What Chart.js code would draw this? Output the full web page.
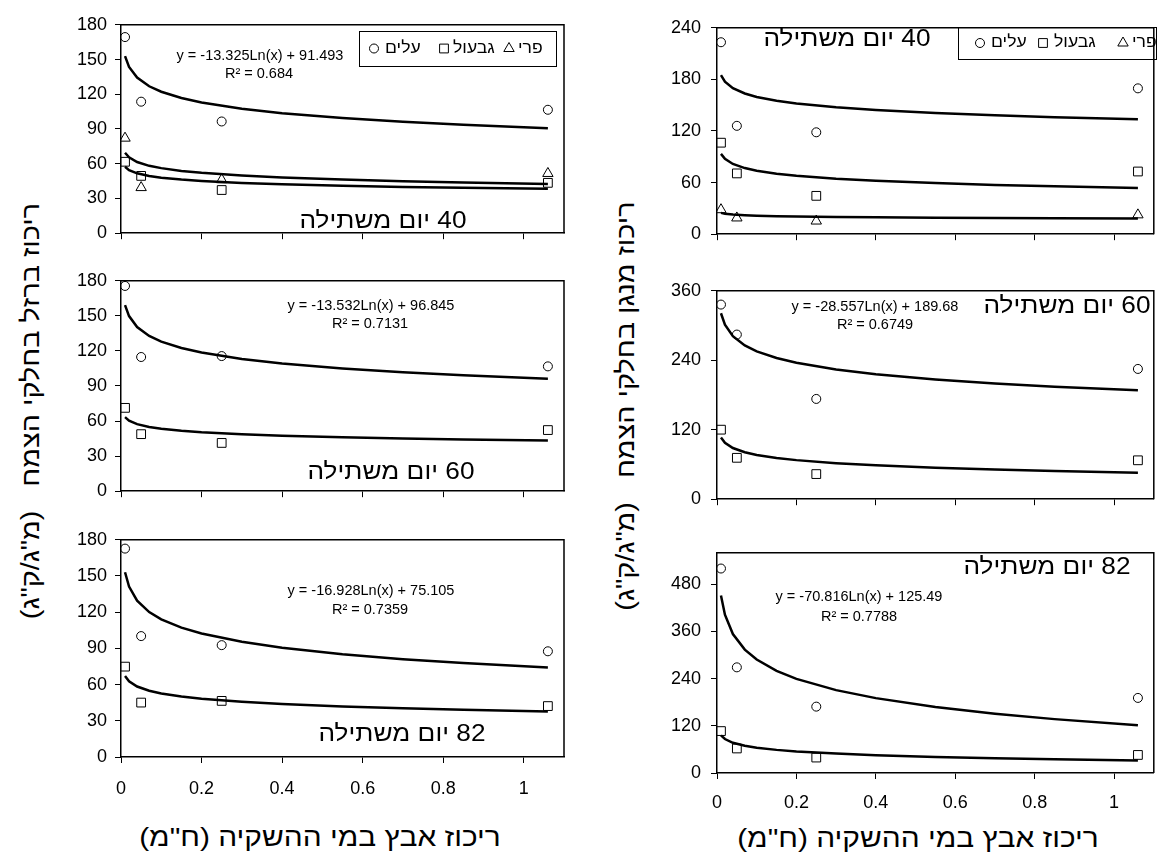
<!DOCTYPE html>
<html lang="he">
<head>
<meta charset="UTF-8">
<title>ריכוז ברזל ומנגן בחלקי הצמח</title>
<script src="https://cdn.jsdelivr.net/npm/chart.js"></script>
<style>
  body { margin: 0; background: #fff; width: 1161px; height: 852px; position: relative; overflow: hidden;
         font-family: "Liberation Sans", Arial, sans-serif; color: #000; }
  canvas { position: absolute; }
  .title { position: absolute; white-space: nowrap; text-align: center; font-size: 26px; height: 30px; line-height: 30px; }
  .xtitle { transform: scaleX(1.15); }
  .ytitle { font-size: 25px; transform: rotate(-90deg) scaleX(1.15); }
</style>
</head>
<body>
<div class="title ytitle" dir="rtl" style="left:-205px; top:396px; width:470px;">ריכוז ברזל בחלקי הצמח&nbsp;&nbsp; (מ"ג/ק"ג)</div>
<div class="title ytitle" dir="rtl" style="left:390px; top:391px; width:470px;">ריכוז מנגן בחלקי הצמח&nbsp;&nbsp; (מ"ג/ק"ג)</div>
<div class="title xtitle" dir="rtl" style="left:110px; top:822px; width:420px;">ריכוז אבץ במי ההשקיה (ח"מ)</div>
<div class="title xtitle" dir="rtl" style="left:708px; top:823px; width:420px;">ריכוז אבץ במי ההשקיה (ח"מ)</div>

<script>
// zinc concentration in irrigation water (x) for the measured points
const xCats = [0.01, 0.05, 0.25, 1.06];
const trendX = [0.01, 0.02, 0.04, 0.07, 0.1, 0.15, 0.2, 0.3, 0.4, 0.55, 0.7, 0.85, 1.06];
const xTicks = [0, 0.2, 0.4, 0.6, 0.8, 1];

const legendLabels = ['עלים', 'גבעול', 'פרי'];
const dayLabels = ['40 יום משתילה', '60 יום משתילה', '82 יום משתילה'];

// iron, 40 days
const fe40Leaf = [169.4, 113.6, 96.5, 106.6];
const fe40Stem = [61.7, 49.5, 37.3, 43.5];
const fe40Fruit = [82.1, 39.4, 46.2, 51.6];
const fe40LeafTrend = [152.9, 143.6, 134.4, 126.9, 122.2, 116.8, 112.9, 107.5, 103.7, 99.5, 96.3, 93.7, 90.7];
const fe40StemTrend = [57.4, 54.5, 51.7, 49.4, 47.9, 46.3, 45.1, 43.4, 42.3, 41.0, 40.0, 39.2, 38.3];
const fe40FruitTrend = [69.5, 65.5, 61.5, 58.2, 56.2, 53.8, 52.2, 49.8, 48.1, 46.3, 44.9, 43.8, 42.5];
// iron, 60 days
const fe60Leaf = [175.6, 114.8, 115.6, 106.8];
const fe60Stem = [71.3, 48.8, 41.3, 52.3];
const fe60LeafTrend = [159.2, 149.8, 140.4, 132.8, 128.0, 122.5, 118.6, 113.1, 109.2, 104.9, 101.7, 99.1, 96.1];
const fe60StemTrend = [63.4, 60.4, 57.4, 55.0, 53.5, 51.8, 50.5, 48.8, 47.5, 46.2, 45.1, 44.3, 43.4];
// iron, 82 days
const fe82Leaf = [172.7, 100.2, 92.7, 87.6];
const fe82Stem = [74.9, 45.1, 46.5, 42.2];
const fe82LeafTrend = [153.1, 141.3, 129.6, 120.1, 114.1, 107.2, 102.3, 95.5, 90.6, 85.2, 81.1, 77.9, 74.1];
const fe82StemTrend = [67.1, 62.7, 58.4, 54.9, 52.6, 50.1, 48.2, 45.7, 43.9, 41.9, 40.4, 39.1, 37.7];
// manganese, 40 days
const mn40Leaf = [223.2, 126.0, 118.5, 169.6];
const mn40Stem = [106.4, 70.7, 44.6, 72.9];
const mn40Fruit = [28.5, 18.9, 15.3, 22.5];
const mn40LeafTrend = [185.0, 177.3, 169.7, 163.6, 159.6, 155.2, 152.0, 147.5, 144.4, 140.9, 138.2, 136.1, 133.7];
const mn40StemTrend = [93.4, 87.6, 81.7, 76.9, 73.9, 70.4, 68.0, 64.5, 62.1, 59.4, 57.3, 55.7, 53.8];
const mn40FruitTrend = [24.8, 23.8, 22.8, 22.0, 21.5, 21.0, 20.6, 20.0, 19.6, 19.1, 18.8, 18.5, 18.2];
// manganese, 60 days
const mn60Leaf = [336.2, 284.4, 173.2, 225.0];
const mn60Stem = [120.1, 71.5, 43.4, 67.2];
const mn60LeafTrend = [321.2, 301.4, 281.6, 265.6, 255.4, 243.9, 235.6, 224.1, 215.8, 206.8, 199.9, 194.3, 188.0];
const mn60StemTrend = [106.5, 97.5, 88.4, 81.2, 76.5, 71.3, 67.5, 62.3, 58.5, 54.4, 51.2, 48.7, 45.9];
// manganese, 82 days
const mn82Leaf = [520.0, 268.7, 168.8, 190.9];
const mn82Stem = [106.6, 62.4, 39.3, 45.9];
const mn82LeafTrend = [451.6, 402.5, 353.5, 313.8, 288.6, 259.8, 239.4, 210.8, 190.4, 167.8, 150.8, 137.0, 121.4];
const mn82StemTrend = [95.9, 86.4, 76.9, 69.2, 64.4, 58.8, 54.8, 49.3, 45.4, 41.0, 37.7, 35.0, 32.0];

Chart.defaults.font.family = '"Liberation Sans", Arial, sans-serif';
Chart.defaults.color = '#000';

const FONT = '"Liberation Sans", Arial, sans-serif';
const markers = {
  leaf: { style: 'circle', r: 4.5 },
  stem: { style: 'rect', r: 6.2 },
  fruit: { style: 'triangle', r: 6 }
};

function drawMarker(ctx, kind, x, y) {
  ctx.beginPath();
  if (kind === 'leaf') {
    ctx.arc(x, y, 4.5, 0, Math.PI * 2);
  } else if (kind === 'stem') {
    ctx.rect(x - 4.4, y - 4.4, 8.8, 8.8);
  } else {
    ctx.moveTo(x, y - 6);
    ctx.lineTo(x + 5.2, y + 3);
    ctx.lineTo(x - 5.2, y + 3);
    ctx.closePath();
  }
  ctx.stroke();
}

// hebrew glyphs in the original are wider than Liberation's, so stretch them a bit
function fillStretched(ctx, text, x, y, sx) {
  ctx.save();
  ctx.translate(x, y);
  ctx.scale(sx, 1);
  ctx.fillText(text, 0, 0);
  ctx.restore();
}

function makePanel(p) {
  const padL = 70, padT = 12;
  const padR = p.right >= 1160 ? 1 : 12;
  const padB = p.xPad ? 56 : 12;
  const cv = document.createElement('canvas');
  cv.width = p.right - p.left + padL + padR;
  cv.height = p.bottom - p.top + padT + padB;
  const ox = p.left - padL, oy = p.top - padT;
  cv.style.left = ox + 'px';
  cv.style.top = oy + 'px';
  document.body.appendChild(cv);

  const datasets = [];
  p.series.forEach(s => {
    datasets.push({
      data: xCats.map((x, i) => ({ x: x, y: s.values[i] })),
      pointStyle: markers[s.kind].style,
      pointRadius: markers[s.kind].r,
      borderColor: '#000',
      backgroundColor: 'rgba(0,0,0,0)',
      borderWidth: 1,
      showLine: false
    });
  });
  p.trends.forEach(t => {
    datasets.push({
      data: trendX.map((x, i) => ({ x: x, y: t[i] })),
      showLine: true,
      pointRadius: 0,
      borderColor: '#000',
      borderWidth: 2.5,
      tension: 0
    });
  });

  const framePlugin = {
    id: 'frameAndText',
    afterDraw(chart) {
      const ctx = chart.ctx, a = chart.chartArea;
      ctx.save();
      ctx.strokeStyle = '#000';
      ctx.lineWidth = 1.5;
      ctx.beginPath();
      ctx.moveTo(a.left, a.top);
      ctx.lineTo(a.right, a.top);
      ctx.lineTo(a.right, a.bottom);
      ctx.stroke();

      ctx.fillStyle = '#000';
      ctx.textBaseline = 'middle';
      p.texts.forEach(t => {
        ctx.font = t.size + 'px ' + FONT;
        ctx.direction = t.rtl ? 'rtl' : 'ltr';
        ctx.textAlign = 'center';
        fillStretched(ctx, t.text, t.x - ox, t.y - oy, t.sx || 1);
      });

      if (p.legend) {
        const L = p.legend;
        ctx.lineWidth = 1;
        ctx.strokeRect(L.box[0] - ox + 0.5, L.box[1] - oy + 0.5, L.box[2] - L.box[0], L.box[3] - L.box[1]);
        ctx.font = '16px ' + FONT;
        ctx.direction = 'ltr';
        ctx.textAlign = 'left';
        ['leaf', 'stem', 'fruit'].forEach((k, i) => {
          drawMarker(ctx, k, L.marks[i] - ox, L.y - oy);
          fillStretched(ctx, legendLabels[i], L.labels[i] - ox, L.y - oy, 1.1);
        });
      }
      ctx.restore();
    }
  };

  new Chart(cv, {
    type: 'scatter',
    data: { datasets: datasets },
    options: {
      responsive: false,
      animation: false,
      events: [],
      devicePixelRatio: 1,
      layout: { padding: { left: 0, top: padT, right: padR, bottom: 0 } },
      plugins: { legend: { display: false }, tooltip: { enabled: false } },
      scales: {
        x: {
          type: 'linear', min: 0, max: 1.1,
          afterFit: s => { s.height = padB; },
          border: { display: true, color: '#000', width: 1.5 },
          grid: { drawOnChartArea: false, drawTicks: true, tickLength: 6, color: '#000', tickColor: '#000', tickWidth: 1 },
          ticks: {
            stepSize: 0.2, includeBounds: false, autoSkip: false, maxRotation: 0,
            padding: p.xPad || 0, font: { size: 18 }, color: '#000',
            callback: v => p.xPad ? String(Math.round(v * 10) / 10) : ''
          }
        },
        y: {
          type: 'linear', min: 0, max: p.yMax,
          afterFit: s => { s.width = padL; },
          border: { display: true, color: '#000', width: 1.5 },
          grid: { drawOnChartArea: false, drawTicks: true, tickLength: 6, color: '#000', tickColor: '#000', tickWidth: 1 },
          ticks: { stepSize: p.yStep, includeBounds: false, padding: p.yPad, font: { size: 18 }, color: '#000' }
        }
      }
    },
    plugins: [framePlugin]
  });
}

// left column: iron
makePanel({
  left: 121, right: 564, top: 18, bottom: 240, yMax: 180, yStep: 30, yPad: 8,
  series: [{ kind: 'leaf', values: fe40Leaf }, { kind: 'stem', values: fe40Stem }, { kind: 'fruit', values: fe40Fruit }],
  trends: [fe40LeafTrend, fe40StemTrend, fe40FruitTrend],
  texts: [
    { text: 'y = -13.325Ln(x) + 91.493', x: 260, y: 56, size: 14.5 },
    { text: 'R² = 0.684', x: 259, y: 74, size: 14.5 },
    { text: dayLabels[0], x: 383, y: 222, size: 23, rtl: true, sx: 1.14 }
  ],
  legend: { box: [359, 31, 556, 66], y: 48.5, marks: [374, 444, 509], labels: [385, 453, 518] }
});
makePanel({
  left: 121, right: 564, top: 274, bottom: 498, yMax: 180, yStep: 30, yPad: 8,
  series: [{ kind: 'leaf', values: fe60Leaf }, { kind: 'stem', values: fe60Stem }],
  trends: [fe60LeafTrend, fe60StemTrend],
  texts: [
    { text: 'y = -13.532Ln(x) + 96.845', x: 371, y: 306, size: 14.5 },
    { text: 'R² = 0.7131', x: 370, y: 324, size: 14.5 },
    { text: dayLabels[1], x: 391, y: 473, size: 23, rtl: true, sx: 1.14 }
  ]
});
makePanel({
  left: 121, right: 564, top: 533, bottom: 757, yMax: 180, yStep: 30, yPad: 8, xPad: 15,
  series: [{ kind: 'leaf', values: fe82Leaf }, { kind: 'stem', values: fe82Stem }],
  trends: [fe82LeafTrend, fe82StemTrend],
  texts: [
    { text: 'y = -16.928Ln(x) + 75.105', x: 371, y: 591, size: 14.5 },
    { text: 'R² = 0.7359', x: 370, y: 610, size: 14.5 },
    { text: dayLabels[2], x: 402, y: 735, size: 23, rtl: true, sx: 1.14 }
  ]
});

// right column: manganese
makePanel({
  left: 717, right: 1160, top: 19, bottom: 243, yMax: 240, yStep: 60, yPad: 10,
  series: [{ kind: 'leaf', values: mn40Leaf }, { kind: 'stem', values: mn40Stem }, { kind: 'fruit', values: mn40Fruit }],
  trends: [mn40LeafTrend, mn40StemTrend, mn40FruitTrend],
  texts: [
    { text: dayLabels[0], x: 847, y: 40, size: 23, rtl: true, sx: 1.14 }
  ],
  legend: { box: [958, 27, 1156, 59], y: 43, marks: [980, 1043, 1123], labels: [991, 1054, 1132] }
});
makePanel({
  left: 717, right: 1160, top: 282, bottom: 508, yMax: 360, yStep: 120, yPad: 10,
  series: [{ kind: 'leaf', values: mn60Leaf }, { kind: 'stem', values: mn60Stem }],
  trends: [mn60LeafTrend, mn60StemTrend],
  texts: [
    { text: 'y = -28.557Ln(x) + 189.68', x: 875, y: 307, size: 14.5 },
    { text: 'R² = 0.6749', x: 875, y: 325, size: 14.5 },
    { text: dayLabels[1], x: 1067, y: 307, size: 23, rtl: true, sx: 1.14 }
  ]
});
makePanel({
  left: 717, right: 1160, top: 544, bottom: 773, yMax: 560, yStep: 120, yPad: 10, xPad: 13,
  series: [{ kind: 'leaf', values: mn82Leaf }, { kind: 'stem', values: mn82Stem }],
  trends: [mn82LeafTrend, mn82StemTrend],
  texts: [
    { text: 'y = -70.816Ln(x) + 125.49', x: 859, y: 597, size: 14.5 },
    { text: 'R² = 0.7788', x: 859, y: 617, size: 14.5 },
    { text: dayLabels[2], x: 1047, y: 568, size: 23, rtl: true, sx: 1.14 }
  ]
});
</script>
</body>
</html>
